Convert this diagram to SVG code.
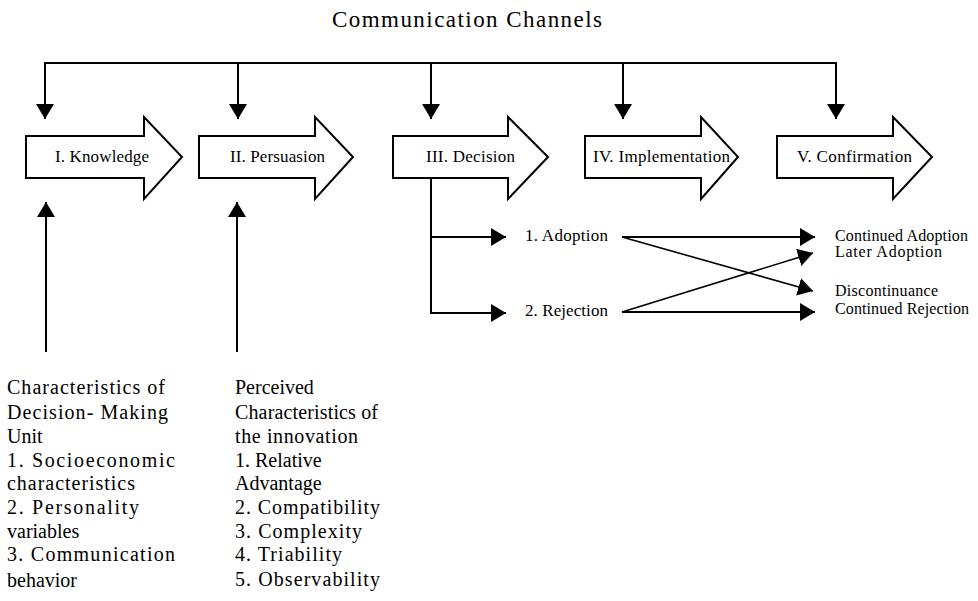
<svg xmlns="http://www.w3.org/2000/svg" width="978" height="601" viewBox="0 0 978 601">
<defs>
<marker id="ah" markerUnits="userSpaceOnUse" markerWidth="16" markerHeight="18" refX="15" refY="9" orient="auto">
<path d="M0,0 L15,9 L0,18 Z" fill="#000"/>
</marker>
<style>
text{font-family:"Liberation Serif","Times New Roman",serif;fill:#000}
.stage{fill:#fff;stroke:#000;stroke-width:2;stroke-linejoin:miter}
.c{fill:none;stroke:#000;stroke-width:2}
.d{fill:none;stroke:#000;stroke-width:1.6}
.lbl{font-size:17px}
.out{font-size:16px}
.blk{font-size:20px}
</style>
</defs>
<rect width="978" height="601" fill="#fff"/>

<g id="title"><text x="332" y="27" font-size="23" textLength="270">Communication Channels</text></g>

<g id="knowledge">
<path class="stage" d="M26,136 H144 V117 L182,157 L144,199 V178 H26 Z"/>
<text class="lbl" x="55" y="162" textLength="94">I. Knowledge</text>
</g>
<g id="persuasion">
<path class="stage" d="M199,136 H315 V117 L353,157 L315,199 V178 H199 Z"/>
<text class="lbl" x="230" y="162" textLength="95">II. Persuasion</text>
</g>
<g id="decision">
<path class="stage" d="M393,136 H508 V117 L548,157 L508,199 V178 H393 Z"/>
<text class="lbl" x="426" y="162" textLength="89">III. Decision</text>
</g>
<g id="implementation">
<path class="stage" d="M585,136 H701 V117 L738,157 L701,199 V178 H585 Z"/>
<text class="lbl" x="593" y="162" textLength="137">IV. Implementation</text>
</g>
<g id="confirmation">
<path class="stage" d="M777,136 H893 V117 L932,157 L893,199 V178 H777 Z"/>
<text class="lbl" x="797" y="162" textLength="115">V. Confirmation</text>
</g>

<g id="adoption"><text class="lbl" x="525" y="241" textLength="83">1. Adoption</text></g>
<g id="rejection"><text class="lbl" x="525" y="316" textLength="83">2. Rejection</text></g>

<g id="continued-adoption"><text class="out" x="835" y="241" textLength="133">Continued Adoption</text></g>
<g id="later-adoption"><text class="out" x="835" y="257" textLength="107">Later Adoption</text></g>
<g id="discontinuance"><text class="out" x="835" y="296" textLength="103">Discontinuance</text></g>
<g id="continued-rejection"><text class="out" x="835" y="314" textLength="134">Continued Rejection</text></g>

<g id="dmu-characteristics" class="blk">
<text x="7" y="394" textLength="158">Characteristics of</text>
<text x="7" y="419" textLength="161">Decision- Making</text>
<text x="7" y="443">Unit</text>
<text x="7" y="467" textLength="168">1. Socioeconomic</text>
<text x="7" y="490" textLength="128">characteristics</text>
<text x="7" y="514" textLength="132">2. Personality</text>
<text x="7" y="538">variables</text>
<text x="7" y="561" textLength="168">3. Communication</text>
<text x="7" y="587">behavior</text>
</g>

<g id="innovation-characteristics" class="blk">
<text x="235" y="394">Perceived</text>
<text x="235" y="419" textLength="143">Characteristics of</text>
<text x="235" y="443" textLength="123">the innovation</text>
<text x="235" y="467">1. Relative</text>
<text x="235" y="490">Advantage</text>
<text x="235" y="514" textLength="145">2. Compatibility</text>
<text x="235" y="538" textLength="127">3. Complexity</text>
<text x="235" y="561" textLength="107">4. Triability</text>
<text x="235" y="586" textLength="145">5. Observability</text>
</g>

<g id="connectors">
<path class="c" d="M45,63 H836"/>
<path class="c" d="M45,62 V119" marker-end="url(#ah)"/>
<path class="c" d="M238,63 V119" marker-end="url(#ah)"/>
<path class="c" d="M431,63 V119" marker-end="url(#ah)"/>
<path class="c" d="M623,63 V119" marker-end="url(#ah)"/>
<path class="c" d="M836,62 V119" marker-end="url(#ah)"/>
<path class="c" d="M46,352 V202" marker-end="url(#ah)"/>
<path class="c" d="M237,352 V202" marker-end="url(#ah)"/>
<path class="c" d="M431,178 V313 H506" marker-end="url(#ah)"/>
<path class="c" d="M431,237 H506" marker-end="url(#ah)"/>
<path class="c" d="M622,237 H815" marker-end="url(#ah)"/>
<path class="c" d="M622,312 H815" marker-end="url(#ah)"/>
<path class="d" d="M622,237 L813,291" marker-end="url(#ah)"/>
<path class="d" d="M622,312 L813,253" marker-end="url(#ah)"/>
</g>
</svg>
